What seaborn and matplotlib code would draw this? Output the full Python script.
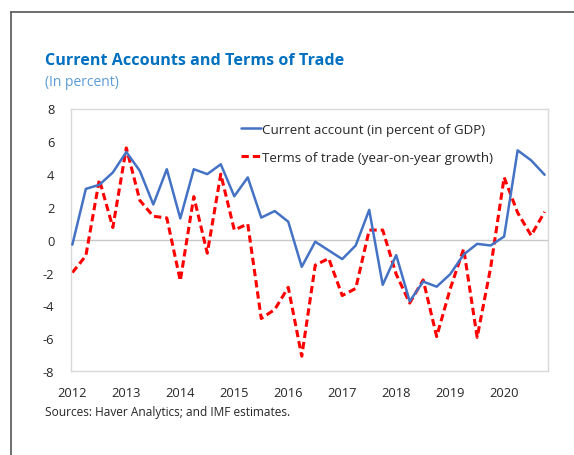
import matplotlib
matplotlib.use("Agg")
import matplotlib.pyplot as plt
from matplotlib.lines import Line2D
import seaborn as sns
import pandas as pd
import numpy as np

# ---- data ----
years = [2012, 2013, 2014, 2015, 2016, 2017, 2018, 2019, 2020]
quarters = [f"{y}Q{q}" for y in years for q in range(1, 5)]
current_account = [-0.3, 3.1, 3.35, 4.1, 5.35, 4.2, 2.15, 4.3, 1.3, 4.3,
                   4.0, 4.6, 2.65, 3.8, 1.35, 1.75, 1.1, -1.65, -0.12, -0.65,
                   -1.18, -0.35, 1.82, -2.75, -0.94, -3.75, -2.55, -2.86, -2.1, -0.9,
                   -0.25, -0.35, 0.2, 5.45, 4.84, 3.96]
terms_of_trade = [-2.0, -0.98, 3.67, 0.75, 5.6, 2.4, 1.43, 1.33, -2.5, 2.63,
                  -0.82, 4.0, 0.6, 0.96, -4.8, -4.25, -2.9, -7.1, -1.55, -1.14,
                  -3.4, -2.97, 0.59, 0.59, -2.1, -3.86, -2.45, -5.9, -3.0, -0.55,
                  -5.95, -1.7, 3.8, 1.65, 0.26, 1.7]
labels = ["Current account (in percent of GDP)", "Terms of trade (year-on-year growth)"]
yticks = [-8, -6, -4, -2, 0, 2, 4, 6, 8]

df = pd.DataFrame({"q": quarters, "ca": current_account, "tot": terms_of_trade})
df["pos"] = np.arange(len(df))

sns.set_theme(style="white")
plt.rcParams["font.family"] = ["Open Sans", "DejaVu Sans"]

W, H = 574, 456
fig = plt.figure(figsize=(W / 100, H / 100), dpi=100)
ax = fig.add_axes([71 / W, 1 - 372 / H, (548 - 71) / W, (372 - 109.5) / H])

ax.axhline(0, color="#C8C8C8", lw=1.0, zorder=1)
sns.lineplot(data=df, x="pos", y="ca", ax=ax, color="#4472C4", lw=1.8,
             label=labels[0], zorder=3)
sns.lineplot(data=df, x="pos", y="tot", ax=ax, color="#FF0000", lw=2.2,
             linestyle="--", label=labels[1], zorder=2)
ax.lines[-1].set_dashes([2.4, 1.3])

ax.set_xlim(-0.1, 35.25)
ax.set_ylim(-8, 8)
ax.set_yticks(yticks)
ax.set_yticklabels([str(v) for v in yticks])
ax.set_xticks(df["pos"][::4])
ax.set_xticklabels([str(y) for y in years])
ax.tick_params(axis="both", length=0, labelsize=9.3, colors="#262626")
ax.tick_params(axis="y", pad=12)
ax.tick_params(axis="x", pad=11)
ax.set_xlabel("")
ax.set_ylabel("")
for s in ax.spines.values():
    s.set_color("#D9D9D9")
    s.set_linewidth(1.0)

leg = ax.legend(loc="upper left", bbox_to_anchor=(241 / W, 1 - 124 / H),
                bbox_transform=fig.transFigure, frameon=False, fontsize=9.6,
                handlelength=1.5, handletextpad=0.1, labelspacing=1.1,
                borderaxespad=0, borderpad=0)
for t in leg.get_texts():
    t.set_color("#262626")

fig.text(45 / W, 1 - 61 / H, "Current Accounts and Terms of Trade",
         color="#0070C0", fontsize=11.6, fontweight="bold", va="center", ha="left")
fig.text(45 / W, 1 - 82 / H, "(In percent)", color="#5B9BD5",
         fontsize=10, va="center", ha="left")
fig.text(45 / W, 1 - 413 / H, "Sources: Haver Analytics; and IMF estimates.",
         color="#262626", fontsize=8.6, va="center", ha="left")

# outer frame (left and top edges)
fig.add_artist(Line2D([10.5 / W, 10.5 / W], [0, 1 - 13 / H],
                      transform=fig.transFigure, color="#555555", lw=1.2))
fig.add_artist(Line2D([10.5 / W, 1], [1 - 13 / H, 1 - 13 / H],
                      transform=fig.transFigure, color="#555555", lw=1.2))

fig.savefig("out.png", dpi=100)
